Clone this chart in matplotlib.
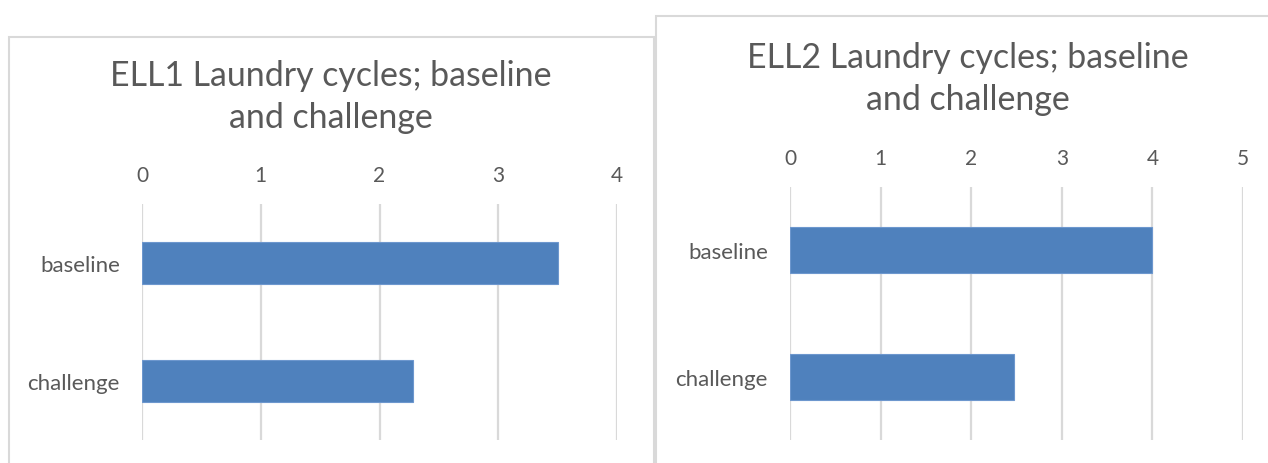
import matplotlib.pyplot as plt
from matplotlib.patches import Rectangle

plt.rcParams['font.family'] = ['Lato', 'DejaVu Sans']

categories = ['baseline', 'challenge']
ell1_values = [3.5, 2.28]
ell2_values = [4.0, 2.47]
ell1_title = "ELL1 Laundry cycles; baseline\nand challenge"
ell2_title = "ELL2 Laundry cycles; baseline\nand challenge"

BAR = '#4f81bd'
GRID = '#d9d9d9'
TXT = '#595959'

W, H = 1268, 464
fig = plt.figure(figsize=(W / 100, H / 100), dpi=100)


def px(x0, y0, x1, y1):
    # pixel box -> figure fraction [left, bottom, width, height]
    return [x0 / W, 1 - y1 / H, (x1 - x0) / W, (y1 - y0) / H]


# chart frames
for x0, y0, x1, y1 in [(9, 38, 654, 470), (656, 17, 1275, 470)]:
    b = px(x0, y0, x1, y1)
    fig.patches.append(Rectangle((b[0], b[1]), b[2], b[3], transform=fig.transFigure,
                                 fill=False, edgecolor=GRID, linewidth=1.5))


def draw(box, values, xmax, title, tx, ty):
    ax = fig.add_axes(px(*box))
    ax.barh(range(len(categories)), values, height=0.36, color=BAR,
            edgecolor='#6d97ce', linewidth=0.8, zorder=3)
    ax.set_xlim(0, xmax)
    ax.set_ylim(len(categories) - 0.5, -0.5)
    ax.set_xticks(range(xmax + 1))
    ax.set_yticks(range(len(categories)))
    ax.set_yticklabels(categories)
    ax.xaxis.tick_top()
    ax.tick_params(axis='x', length=0, pad=14, labelsize=15, labelcolor=TXT)
    ax.tick_params(axis='y', length=0, pad=16, labelsize=16, labelcolor=TXT)
    ax.grid(axis='x', color=GRID, linewidth=1.6, zorder=0)
    for s in ax.spines.values():
        s.set_visible(False)
    fig.text(tx / W, 1 - ty / H, title, ha='center', va='center',
             fontsize=24.4, color=TXT, linespacing=1.42)


draw((142, 205, 617, 441), ell1_values, 4, ell1_title, 331, 97)
draw((790, 188, 1243, 441), ell2_values, 5, ell2_title, 968, 79)

fig.savefig('out.png', dpi=100)
